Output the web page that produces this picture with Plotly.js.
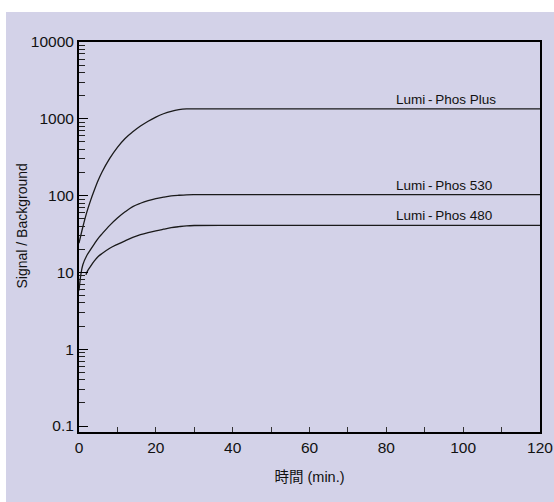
<!DOCTYPE html>
<html>
<head>
<meta charset="utf-8">
<script src="https://cdn.plot.ly/plotly-3.0.1.min.js"></script>
<style>
  html, body { margin: 0; padding: 0; background: #ffffff; width: 554px; height: 502px; overflow: hidden; }
  #chart { position: absolute; left: 6px; top: 12px; width: 548px; height: 490px; }
</style>
</head>
<body>
<div id="chart"></div>
<script>
// ---- data ----
const seriesNames = ["Lumi\u2009-\u2009Phos Plus", "Lumi\u2009-\u2009Phos 530", "Lumi\u2009-\u2009Phos 480"];

const plusTime  = [0, 1, 2, 3, 4, 5, 6, 8, 10, 12, 14, 16, 18, 20, 22, 24, 26, 28, 30, 40, 120];
const plusValue = [24, 39, 60, 86, 118, 158, 203, 305, 425, 555, 676, 804, 931, 1054, 1164, 1253, 1315, 1347, 1350, 1350, 1350];

const p530Time  = [0, 0.5, 1, 2, 3, 4, 5, 6, 8, 10, 12, 14, 16, 18, 20, 22, 24, 26, 28, 30, 40, 120];
const p530Value = [5.8, 9.5, 12.6, 16.5, 19.8, 23.6, 27.8, 31.8, 41, 51, 61.5, 72, 79.5, 86, 91.5, 95.5, 99, 101, 102.5, 103, 103, 103];

const p480Time  = [1.8, 2.2, 3, 4, 5, 6, 8, 10, 12, 14, 16, 18, 20, 22, 24, 26, 28, 30, 40, 120];
const p480Value = [9.3, 10.4, 12, 14.1, 16.1, 17.6, 20.6, 23.2, 25.8, 28.5, 31, 33, 34.8, 36.5, 38.2, 39.4, 40.4, 40.8, 41, 41];

const yTickVals = [0.1, 1, 10, 100, 1000, 10000];
const yTickText = ["0.1", "1", "10", "100", "1000", "10000"];
const xTickVals = [0, 20, 40, 60, 80, 100, 120];
const xTickText = ["0", "20", "40", "60", "80", "100", "120"];
const xMinorVals = [10, 30, 50, 70, 90, 110];

const xTitle = "時間 (min.)";
const yTitle = "Signal / Background";

// minor log ticks (2..9 x 10^k)
const yMinor = [];
for (let k = -1; k < 4; k++) {
  for (let m = 2; m <= 9; m++) yMinor.push(m * Math.pow(10, k));
}

const FONT = "'Liberation Sans', Arial, 'Noto Sans CJK JP', sans-serif";
const lineStyle = { color: "#1a1a1a", width: 1.3, shape: "spline", smoothing: 1 };

const traces = [
  { x: plusTime, y: plusValue, name: seriesNames[0], mode: "lines", line: lineStyle },
  { x: p530Time, y: p530Value, name: seriesNames[1], mode: "lines", line: lineStyle },
  { x: p480Time, y: p480Value, name: seriesNames[2], mode: "lines", line: lineStyle }
];

const finals = [plusValue[plusValue.length - 1], p530Value[p530Value.length - 1], p480Value[p480Value.length - 1]];
const annotations = seriesNames.map((n, i) => ({
  x: 82, y: Math.log10(finals[i]), xref: "x", yref: "y",
  text: n, showarrow: false, xanchor: "left", yanchor: "bottom", yshift: 0,
  font: { family: FONT, size: 13.5, color: "#111" }
}));
// y-axis title (placed slightly above the plot centre, as in the reference)
annotations.push({
  x: -0.1236, y: 0.527, xref: "paper", yref: "paper",
  text: yTitle, textangle: -90, showarrow: false,
  xanchor: "center", yanchor: "middle",
  font: { family: FONT, size: 14, color: "#111" }
});

const layout = {
  width: 548, height: 490,
  paper_bgcolor: "#d3d2e8",
  plot_bgcolor: "#d3d2e8",
  margin: { l: 73, r: 14, t: 30, b: 70 },
  showlegend: false,
  font: { family: FONT, size: 15.5, color: "#111" },
  xaxis: {
    range: [0, 120],
    tickmode: "array", tickvals: xTickVals, ticktext: xTickText,
    ticks: "inside", ticklen: 5, tickwidth: 1, tickcolor: "#333",
    minor: { tickmode: "array", tickvals: xMinorVals, ticks: "inside", ticklen: 5, tickwidth: 1, tickcolor: "#333" },
    showline: true, linecolor: "#000", linewidth: 2, mirror: true,
    showgrid: false, zeroline: false,
    tickfont: { family: FONT, size: 15.5, color: "#111" },
    title: { text: xTitle, font: { family: FONT, size: 14.5, color: "#111" }, standoff: 17 }
  },
  yaxis: {
    type: "log",
    range: [-1.078, 4],
    tickmode: "array", tickvals: yTickVals, ticktext: yTickText,
    ticks: "inside", ticklen: 9, tickwidth: 1, tickcolor: "#000",
    minor: { tickmode: "array", tickvals: yMinor, ticks: "inside", ticklen: 6, tickwidth: 1, tickcolor: "#222" },
    showline: true, linecolor: "#000", linewidth: 2, mirror: true,
    showgrid: false, zeroline: false,
    tickfont: { family: FONT, size: 15.5, color: "#111" }
  },
  annotations: annotations
};

Plotly.newPlot("chart", traces, layout, { staticPlot: true, displayModeBar: false });
</script>
</body>
</html>
